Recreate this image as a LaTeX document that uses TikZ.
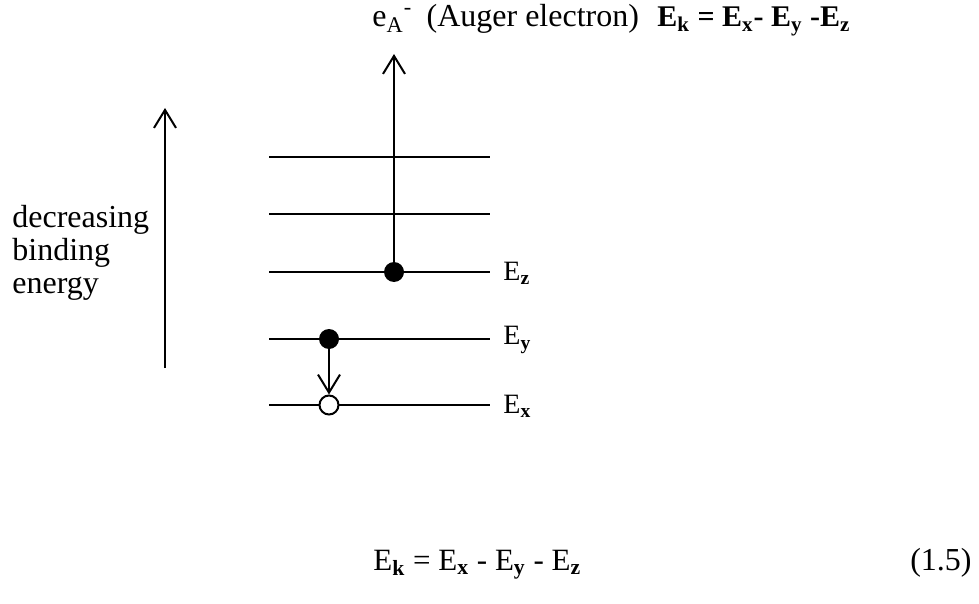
\documentclass[tikz,border=0pt]{standalone}
\usepackage{fontspec}
\setmainfont{Liberation Serif}
\usetikzlibrary{arrows.meta,positioning}

\begin{document}
\begin{tikzpicture}[
  x=0.5pt,y=-0.5pt,
  level/.style={line width=1pt},
  electron/.style={circle,fill=black,inner sep=0pt,minimum size=10pt},
  hole/.style={circle,draw=black,fill=white,line width=1pt,inner sep=0pt,
    minimum size=9.5pt},
  txt/.style={font=\fontsize{16}{16.5}\selectfont,inner sep=0pt},
  lbl/.style={font=\fontsize{14}{16}\selectfont,inner sep=0pt,anchor=west},
  arr/.style={-{Straight Barb[length=9pt,width=11pt]},line width=1pt}
]
\useasboundingbox (0,0) rectangle (979,604);
% energy levels
\foreach \y/\n in {157/l5,214/l4,272/lz,339/ly,405/lx}
  \draw[level] (269,\y) coordinate (\n-w) -- (490,\y) coordinate (\n-e);
\node[lbl] (Ez) at (503,273) {E\textsubscript{\textbf{z}}};
\node[lbl] (Ey) at (503,340) {E\textsubscript{\textbf{y}}};
\node[lbl] (Ex) at (503,406) {E\textsubscript{\textbf{x}}};
% electrons and hole
\node[electron] (ez) at (394,272) {};
\node[electron] (ey) at (329,339) {};
\node[hole] (hx) at (329,405) {};
\coordinate (eout) at (394,54);
\draw[arr] (ez) -- (eout);
\draw[arr] (ey) -- (hx);
% binding energy axis
\coordinate (ebot) at (165,368);
\coordinate (etop) at (165,108);
\draw[arr] (ebot) -- (etop);
\node[txt,anchor=west,align=left] (bind) at (12,253)
  {decreasing\\binding\\energy};
% labels
\node[txt,anchor=base west] (auger) at (372,27)
  {e\textsubscript{A}\textsuperscript{-}\hspace{0.45em}(Auger electron)};
\node[txt,anchor=base west,font=\fontsize{15}{16}\selectfont\bfseries]
  (ekin) at (657,27)
  {E\textsubscript{k} = E\textsubscript{x}- E\textsubscript{y} -E\textsubscript{z}};
\node[txt,anchor=base west,font=\fontsize{15.5}{16}\selectfont] (eq) at (373,570)
  {E\textsubscript{\textbf{k}} = E\textsubscript{\textbf{x}} - E\textsubscript{\textbf{y}} - E\textsubscript{\textbf{z}}};
\node[txt,anchor=base east] (eqno) at (972,570) {(1.5)};
\end{tikzpicture}
\end{document}
